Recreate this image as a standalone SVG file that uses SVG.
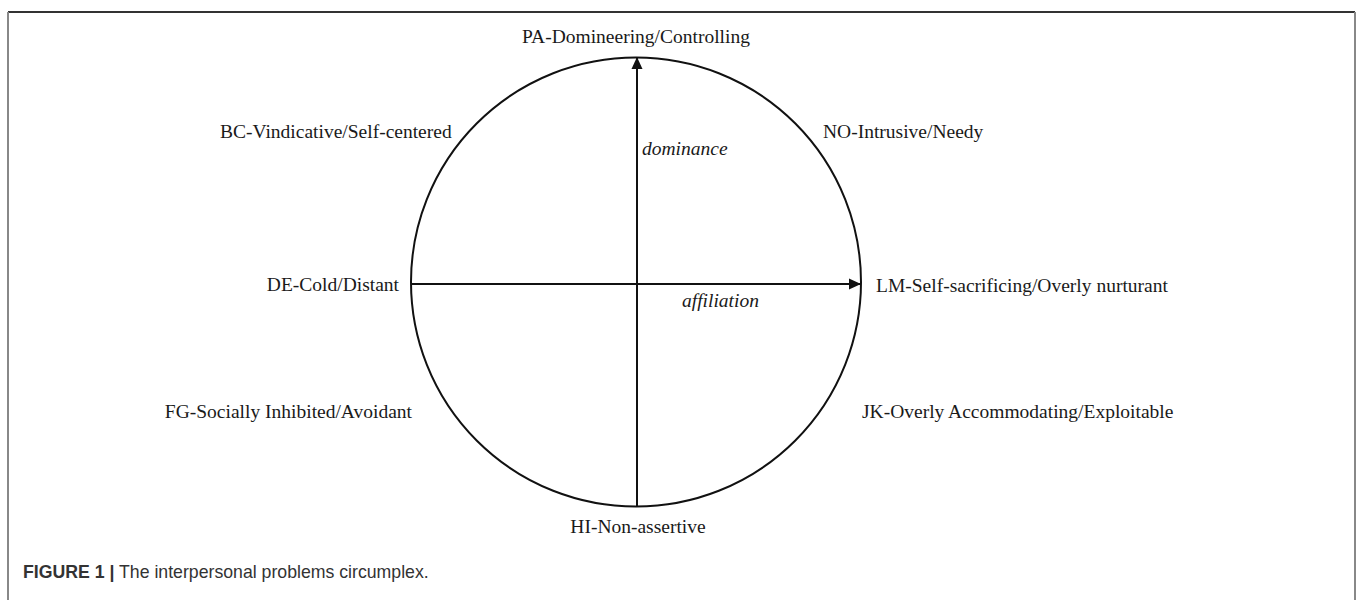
<svg xmlns="http://www.w3.org/2000/svg" width="1358" height="600" viewBox="0 0 1358 600">
<style>
.lbl{font-family:"Liberation Serif","Times New Roman",serif;font-size:19.5px;fill:#1a1a1a}
.it{font-style:italic}
.ln{stroke:#111;stroke-width:2;fill:none}
.cap{font-family:"Liberation Sans",Arial,sans-serif;font-size:17.7px;fill:#333}
</style>
<defs>
<marker id="ah" viewBox="0 0 12 12" refX="12" refY="6" markerWidth="12" markerHeight="12" markerUnits="userSpaceOnUse" orient="auto">
<path d="M0,0.5 L12,6 L0,11.5 Z" fill="#111"/>
</marker>
</defs>
<rect width="1358" height="600" fill="#fff"/>
<g id="frame">
<line x1="8" y1="12" x2="1355" y2="12" stroke="#333" stroke-width="2"/>
<line x1="8" y1="12" x2="8" y2="600" stroke="#888" stroke-width="2"/>
<line x1="1355" y1="12" x2="1355" y2="600" stroke="#888" stroke-width="2"/>
</g>
<g id="circle"><ellipse cx="636" cy="282" rx="225" ry="224.5" class="ln"/></g>
<g id="connectors">
<line x1="637" y1="506" x2="637" y2="57" class="ln" marker-end="url(#ah)"/>
<line x1="411" y1="284" x2="861" y2="284" class="ln" marker-end="url(#ah)"/>
</g>
<g id="PA"><text class="lbl" x="636" y="43" text-anchor="middle">PA-Domineering/Controlling</text></g>
<g id="BC"><text class="lbl" x="220" y="138">BC-Vindicative/Self-centered</text></g>
<g id="NO"><text class="lbl" x="823" y="138">NO-Intrusive/Needy</text></g>
<g id="DE"><text class="lbl" x="399" y="291" text-anchor="end">DE-Cold/Distant</text></g>
<g id="LM"><text class="lbl" x="876" y="292">LM-Self-sacrificing/Overly nurturant</text></g>
<g id="FG"><text class="lbl" x="412" y="418" text-anchor="end">FG-Socially Inhibited/Avoidant</text></g>
<g id="JK"><text class="lbl" x="862" y="418">JK-Overly Accommodating/Exploitable</text></g>
<g id="HI"><text class="lbl" x="638" y="533" text-anchor="middle">HI-Non-assertive</text></g>
<g id="dom"><text class="lbl it" x="642" y="155">dominance</text></g>
<g id="aff"><text class="lbl it" x="682" y="307">affiliation</text></g>
<g id="caption"><text class="cap" x="23" y="578"><tspan font-weight="bold">FIGURE 1 |</tspan> The interpersonal problems circumplex.</text></g>
</svg>
